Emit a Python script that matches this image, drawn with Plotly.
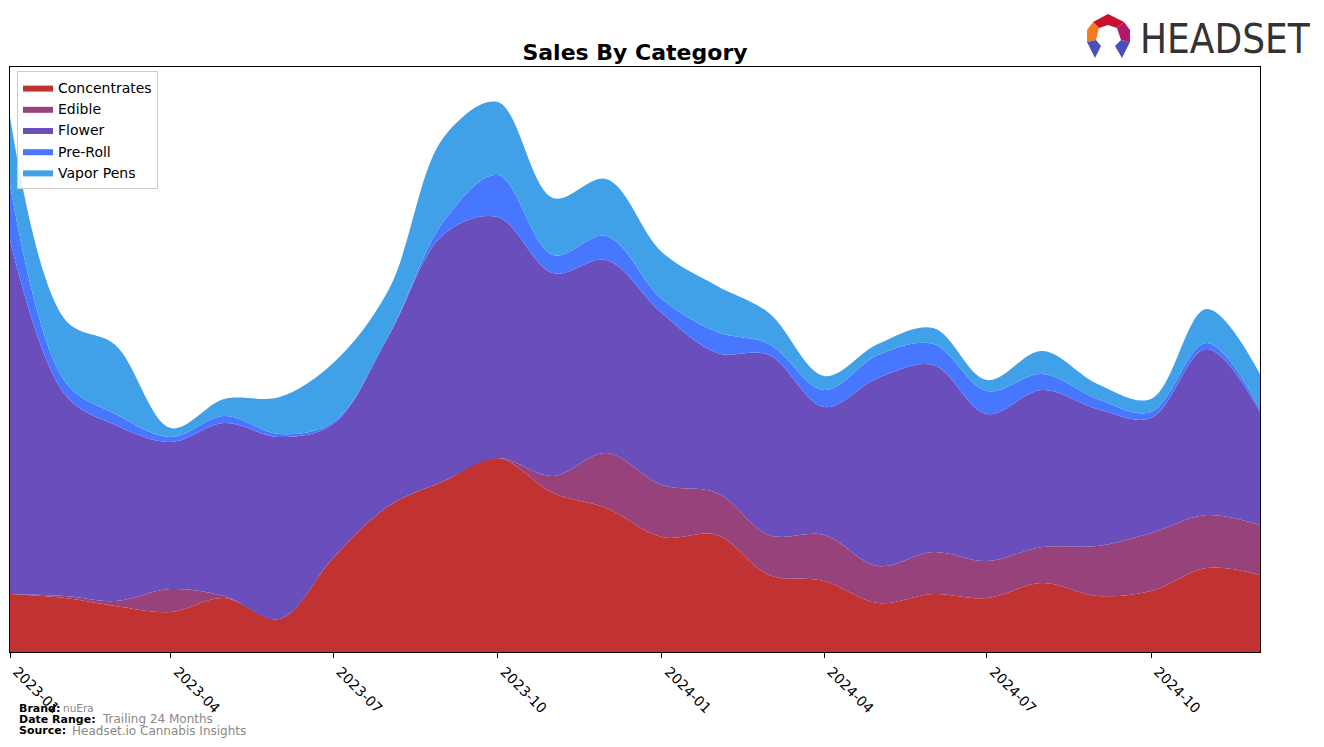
import plotly.graph_objects as go

months = ["2023-01-01", "2023-02-01", "2023-03-01", "2023-04-01", "2023-05-01", "2023-06-01",
          "2023-07-01", "2023-08-01", "2023-09-01", "2023-10-01", "2023-11-01", "2023-12-01",
          "2024-01-01", "2024-02-01", "2024-03-01", "2024-04-01", "2024-05-01", "2024-06-01",
          "2024-07-01", "2024-08-01", "2024-09-01", "2024-10-01", "2024-11-01", "2024-12-01"]

concentrates = [58, 54, 46, 40, 54, 33, 94, 146, 171, 194, 159, 144,
                115, 117, 77, 71, 49, 58, 54, 69, 56, 61, 84, 77]
edible = [0, 2, 5, 23, 2, 0, 0, 0, 0, 0, 17, 55,
          52, 42, 40, 46, 37, 42, 37, 36, 50, 58, 53, 50]
flower = [354, 201, 176, 147, 173, 182, 134, 170, 247, 241, 203, 193,
          172, 140, 180, 128, 188, 187, 147, 157, 137, 115, 166, 113]
pre_roll = [55, 13, 11, 5, 7, 3, 2, 0, 13, 42, 18, 24,
            14, 21, 11, 17, 23, 21, 23, 16, 10, 6, 6, 3]
vapor_pens = [68, 62, 69, 9, 17, 37, 59, 46, 84, 73, 57, 57,
              47, 46, 31, 14, 11, 16, 11, 23, 15, 13, 34, 35]

series = [
    ("Concentrates", concentrates, "#C13333"),
    ("Edible", edible, "#97427A"),
    ("Flower", flower, "#6A4FBC"),
    ("Pre-Roll", pre_roll, "#4877FF"),
    ("Vapor Pens", vapor_pens, "#40A0E8"),
]

W, H = 1324, 747
L, R, T, B = 10, 1260, 67, 652


def px(x):
    return (x - L) / (R - L)


def py(y):
    return (B - y) / (B - T)


fig = go.Figure()
for name, vals, color in series:
    fig.add_trace(go.Scatter(
        x=months, y=vals, name=name, mode="lines",
        stackgroup="one", line=dict(width=0, shape="spline", smoothing=1.0, color=color),
        fillcolor=color, hoverinfo="skip",
    ))

FONT = "DejaVu Sans"

fig.update_layout(
    width=W, height=H,
    margin=dict(l=L, r=W - R, t=T, b=H - B, autoexpand=False),
    paper_bgcolor="white", plot_bgcolor="white",
    title=dict(text="<b>Sales By Category</b>", x=635 / W, xanchor="center",
               y=1 - 52 / H, yanchor="middle",
               font=dict(family=FONT, size=22, color="black")),
    showlegend=True,
    legend=dict(x=px(17), y=py(71), xanchor="left", yanchor="top",
                bgcolor="rgba(255,255,255,0.85)", bordercolor="#CCCCCC", borderwidth=1,
                font=dict(family=FONT, size=14, color="black"), traceorder="normal",
                tracegroupgap=0),
    xaxis=dict(type="date", range=["2023-01-01", "2024-12-01"], automargin=False,
               tick0="2023-01-01", dtick="M3", tickformat="%Y-%m", tickangle=45,
               ticks="outside", ticklen=5, tickcolor="black", ticklabelshift=7,
               showline=True, linecolor="black", linewidth=1, mirror=True,
               showgrid=False, zeroline=False,
               tickfont=dict(family=FONT, size=14, color="black")),
    yaxis=dict(range=[0, B - T], showticklabels=False, ticks="", automargin=False,
               showline=True, linecolor="black", linewidth=1, mirror=True,
               showgrid=False, zeroline=False),
)

# footer
foot = [
    (708, "<b>Brand:</b>", 17, 11, "black"),
    (708, "nuEra", 61, 10.5, "#888888"),
    (719, "<b>Date Range:</b>", 17, 11, "black"),
    (719, "Trailing 24 Months", 100, 12, "#888888"),
    (730, "<b>Source:</b>", 17, 11, "black"),
    (731, "Headset.io Cannabis Insights", 70, 12, "#888888"),
]
for yy, txt, xx, sz, col in foot:
    fig.add_annotation(text=txt, xref="paper", yref="paper", x=px(xx), y=py(yy),
                       xanchor="left", yanchor="middle", showarrow=False,
                       font=dict(family=FONT, size=sz, color=col))

# logo text
fig.add_annotation(text="HEADSET", xref="paper", yref="paper", x=px(1138), y=py(39),
                   xanchor="left", yanchor="middle", showarrow=False,
                   font=dict(family="Liberation Sans Narrow, DejaVu Sans Condensed, Roboto, sans-serif",
                             size=40, color="#333333"))


def poly(pts, color):
    d = "M " + " L ".join(f"{px(x):.5f},{py(y):.5f}" for x, y in pts) + " Z"
    fig.add_shape(type="path", path=d, xref="paper", yref="paper",
                  fillcolor=color, line=dict(width=0))


poly([(1093, 22), (1108, 14), (1124, 22), (1117, 28), (1108, 25), (1099, 28)], "#C8102E")
poly([(1093, 22), (1099, 28), (1096, 40), (1087, 42), (1087, 30)], "#F47B20")
poly([(1124, 22), (1130, 30), (1130, 42), (1121, 40), (1117, 28)], "#B5176B")
poly([(1087, 42), (1096, 40), (1101, 46), (1095, 58)], "#4B4FB8")
poly([(1130, 42), (1121, 40), (1115, 46), (1122, 58)], "#4B4FB8")

fig.write_html("out.html")
